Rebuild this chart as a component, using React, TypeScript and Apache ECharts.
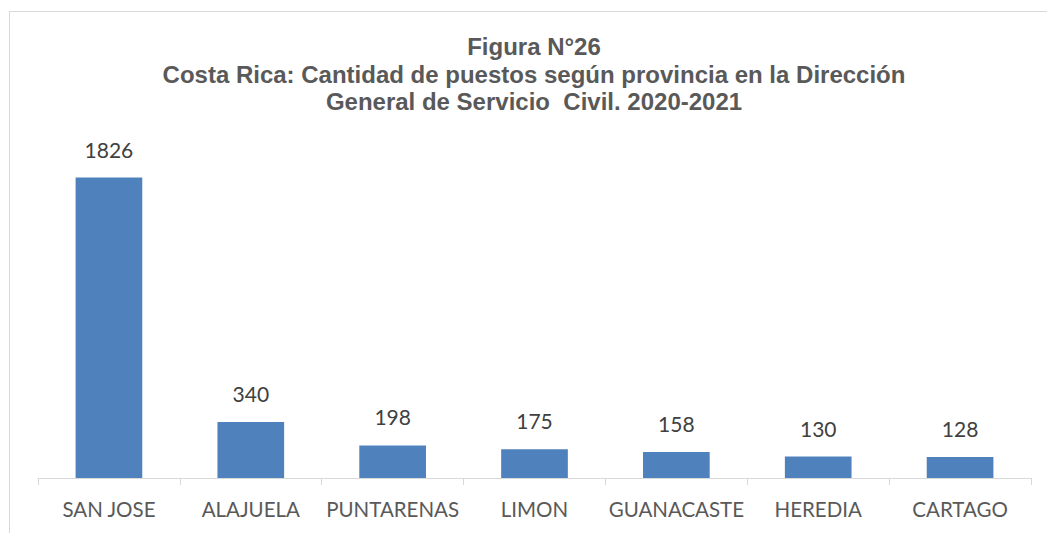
import React, { useEffect, useRef } from "react";
import * as echarts from "echarts";

const categories = ["SAN JOSE", "ALAJUELA", "PUNTARENAS", "LIMON", "GUANACASTE", "HEREDIA", "CARTAGO"];
const values = [1826, 340, 198, 175, 158, 130, 128];
const titleLines = [
  "Figura N°26",
  "Costa Rica: Cantidad de puestos según provincia en la Dirección",
  "General de Servicio  Civil. 2020-2021",
];

export default function App() {
  const ref = useRef<HTMLDivElement>(null);
  useEffect(() => {
    if (!ref.current) return;
    const chart = echarts.init(ref.current, null, { renderer: "svg" });
    chart.setOption({
      animation: false,
      backgroundColor: "#ffffff",
      title: {
        text: titleLines.join("\n"),
        left: 529,
        top: 28,
        textAlign: "center",
        textStyle: {
          fontFamily: "Liberation Sans, Arial, sans-serif",
          fontWeight: "bold",
          fontSize: 24,
          lineHeight: 27.5,
          color: "#595959",
        },
      },
      graphic: [
        { type: "line", shape: { x1: 9, y1: 11.5, x2: 1047, y2: 11.5 }, style: { stroke: "#d9d9d9", lineWidth: 1 } },
        { type: "line", shape: { x1: 9.5, y1: 11, x2: 9.5, y2: 533 }, style: { stroke: "#d9d9d9", lineWidth: 1 } },
      ],
      grid: { left: 38, right: 16, top: 149, bottom: 55, containLabel: false },
      xAxis: {
        type: "category",
        data: categories,
        axisLine: { lineStyle: { color: "#d9d9d9", width: 1 } },
        axisTick: { show: true, length: 7, lineStyle: { color: "#d9d9d9" } },
        axisLabel: {
          margin: 20,
          fontFamily: "Lato, sans-serif",
          fontSize: 20.5,
          color: "#595959",
          interval: 0,
        },
      },
      yAxis: { type: "value", min: 0, max: 2000, show: false, splitLine: { show: false } },
      series: [
        {
          type: "bar",
          data: values,
          barWidth: "47%",
          itemStyle: { color: "#4f81bd" },
          label: {
            show: true,
            position: "top",
            distance: 18,
            fontFamily: "Lato, sans-serif",
            fontSize: 21,
            color: "#404040",
          },
        },
      ],
    });
    return () => chart.dispose();
  }, []);
  return <div ref={ref} style={{ position: "fixed", left: 0, top: 0, width: 1047, height: 533 }} />;
}
